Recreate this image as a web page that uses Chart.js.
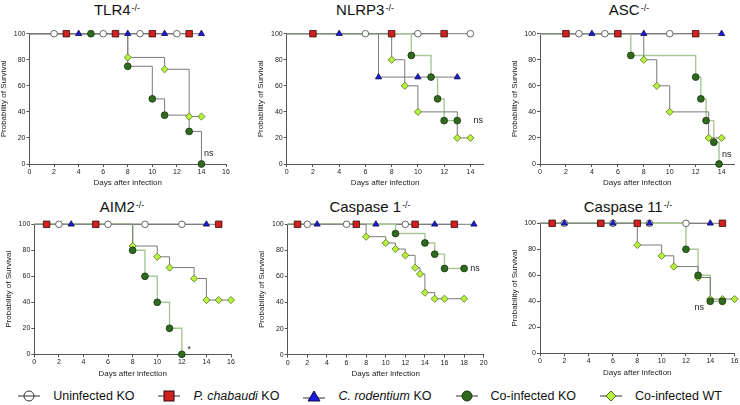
<!DOCTYPE html>
<html>
<head>
<meta charset="utf-8">
<script src="https://cdn.jsdelivr.net/npm/chart.js@4.4.0/dist/chart.umd.min.js"></script>
<style>
  html, body { margin: 0; padding: 0; background: #fff; }
  #wrap { position: relative; width: 740px; height: 405px; overflow: hidden; font-family: "Liberation Sans", Arial, sans-serif; color: #111; }
  #wrap canvas { position: absolute; }
  .title { position: absolute; transform: translateX(-50%); font-size: 15px; line-height: 15px; white-space: nowrap; }
  .title .sup { font-size: 9px; position: relative; top: -4px; margin-left: 1px; }
  #legend { position: absolute; left: 0; top: 389px; width: 740px; height: 14px; display: flex; justify-content: center; align-items: center; gap: 24px; font-size: 12.5px; line-height: 14px; }
  #legend .item { display: flex; align-items: center; white-space: nowrap; }
  #legend svg { margin-right: 13px; }
</style>
</head>
<body>
<div id="wrap">
  <div class="title" style="left:117px;top:2px">TLR4<span class="sup">-/-</span></div>
  <div class="title" style="left:365px;top:2px">NLRP3<span class="sup">-/-</span></div>
  <div class="title" style="left:629px;top:2px">ASC<span class="sup">-/-</span></div>
  <div class="title" style="left:122px;top:199px">AIM2<span class="sup">-/-</span></div>
  <div class="title" style="left:370px;top:199px">Caspase 1<span class="sup">-/-</span></div>
  <div class="title" style="left:628px;top:199px">Caspase 11<span class="sup">-/-</span></div>

  <div id="legend">
    <div class="item">
      <svg width="22" height="12"><line x1="0" y1="6" x2="22" y2="6" stroke="#333" stroke-width="1"/><circle cx="11" cy="6" r="5" fill="none" stroke="#333" stroke-width="1"/></svg>
      <span>Uninfected KO</span>
    </div>
    <div class="item">
      <svg width="22" height="12"><line x1="0" y1="6" x2="22" y2="6" stroke="#333" stroke-width="1"/><rect x="6" y="1" width="10" height="10" fill="#d0201f" stroke="#2a0808" stroke-width="1"/></svg>
      <span><i>P. chabaudi</i> KO</span>
    </div>
    <div class="item">
      <svg width="22" height="12"><line x1="0" y1="8" x2="22" y2="8" stroke="#333" stroke-width="1"/><polygon points="11,1 17,11 5,11" fill="#1a1ae0" stroke="#101040" stroke-width="1"/></svg>
      <span><i>C. rodentium</i> KO</span>
    </div>
    <div class="item">
      <svg width="22" height="12"><line x1="0" y1="6" x2="22" y2="6" stroke="#333" stroke-width="1"/><circle cx="11" cy="6" r="5" fill="#2f6a1f" stroke="#18350e" stroke-width="1"/></svg>
      <span>Co-infected KO</span>
    </div>
    <div class="item">
      <svg width="22" height="12"><line x1="0" y1="6" x2="22" y2="6" stroke="#333" stroke-width="1"/><polygon points="11,1 16,6 11,11 6,6" fill="#b8f040" stroke="#4c6a1c" stroke-width="1"/></svg>
      <span>Co-infected WT</span>
    </div>
  </div>
</div>

<script>
// axis ticks
const survivalTicks = [0, 20, 40, 60, 80, 100];
const dayTicks14 = [0, 2, 4, 6, 8, 10, 12, 14];
const dayTicks16 = [0, 2, 4, 6, 8, 10, 12, 14, 16];
const dayTicks20 = [0, 2, 4, 6, 8, 10, 12, 14, 16, 18, 20];

// [day, % survival]
// TLR4-/-
const tlr4Uninfected = [[0, 100], [2, 100], [6, 100], [9, 100], [12, 100]];
const tlr4Chabaudi = [[0, 100], [3, 100], [7, 100], [10, 100], [13, 100]];
const tlr4Rodentium = [[0, 100], [4, 100], [8, 100], [11, 100], [14, 100]];
const tlr4CoKO = [[0, 100], [5, 100], [8, 75], [10, 50], [11, 37.5], [13, 25], [14, 0]];
const tlr4CoWT = [[0, 100], [8, 81.8], [11, 72.7], [13, 36.4], [14, 36.4]];

// NLRP3-/-
const nlrp3Uninfected = [[0, 100], [6, 100], [10, 100], [14, 100]];
const nlrp3Chabaudi = [[0, 100], [2, 100], [8, 100], [12, 100]];
const nlrp3Rodentium = [[0, 100], [4, 100], [7, 66.7], [10, 66.7], [13, 66.7]];
const nlrp3CoKO = [[0, 100], [9.5, 83.3], [11, 66.7], [11.5, 50], [12, 33.3], [13, 33.3]];
const nlrp3CoWT = [[0, 100], [8, 80], [9, 60], [10, 40], [13, 20], [14, 20]];

// ASC-/-
const ascUninfected = [[0, 100], [3, 100], [5, 100], [10, 100]];
const ascChabaudi = [[0, 100], [2, 100], [6, 100], [12, 100]];
const ascRodentium = [[0, 100], [4, 100], [8, 100], [14, 100]];
const ascCoKO = [[0, 100], [7, 83.3], [12, 66.7], [12.4, 50], [12.8, 33.3], [13.4, 16.7], [13.8, 0]];
const ascCoWT = [[0, 100], [8, 80], [9, 60], [10, 40], [13, 20], [14, 20]];

// AIM2-/-
const aim2Uninfected = [[0, 100], [2, 100], [6, 100], [9, 100], [12, 100]];
const aim2Chabaudi = [[0, 100], [1, 100], [5, 100], [15, 100]];
const aim2Rodentium = [[0, 100], [3, 100], [14, 100]];
const aim2CoKO = [[0, 100], [8, 80], [9, 60], [10, 40], [11, 20], [12, 0]];
const aim2CoWT = [[0, 100], [8, 83.3], [10, 75], [11, 66.7], [13, 58.3], [14, 41.7], [15, 41.7], [16, 41.7]];

// Caspase 1-/-
const casp1Uninfected = [[0, 100], [2, 100], [6, 100], [12, 100]];
const casp1Chabaudi = [[0, 100], [1, 100], [7, 100], [13, 100], [17, 100]];
const casp1Rodentium = [[0, 100], [3, 100], [9, 100], [15, 100], [19, 100]];
const casp1CoKO = [[0, 100], [11, 92.9], [14, 85.7], [15, 77.1], [16, 66.1], [18, 66.1]];
const casp1CoWT = [[0, 100], [8, 90.5], [10, 85.7], [11, 81], [12, 76.2], [13, 66.7], [13.5, 61.9], [14, 47.6], [15, 42.9], [16, 42.9], [18, 42.9]];

// Caspase 11-/-
const casp11Uninfected = [[0, 100], [2, 100], [6, 100], [9, 100], [12, 100]];
const casp11Chabaudi = [[0, 100], [1, 100], [5, 100], [8, 100], [15, 100]];
const casp11Rodentium = [[0, 100], [2, 100], [6, 100], [9, 100], [14, 100]];
const casp11CoKO = [[0, 100], [12, 80], [13, 60], [14, 40], [15, 40]];
const casp11CoWT = [[0, 100], [8, 83.3], [10, 75], [11, 66.7], [13, 58.3], [14, 41.7], [15, 41.7], [16, 41.7]];

// significance marks: text, day, % survival
const noteText = ["ns", "ns", "ns", "*", "ns", "ns"];
const noteDay = [14.6, 14.6, 14.4, 12.6, 19.1, 13.1];
const notePct = [8, 33, 7, 4, 66, 35];

Chart.defaults.font.family = '"Liberation Sans", Arial, sans-serif';

const GREY = "#7a7a7a";
const GREEN_LINE = "#a6c996";
const AXIS = "#555";
const Y_W = 30.5;
const X_H = 24;

// uninfected, chabaudi, rodentium, co-KO, co-WT
const seriesStyle = [
  { shape: "circle", r: 3.3, fill: "#ffffff", stroke: "#444", pointOrder: 2, lineOrder: 12 },
  { shape: "rect", r: 4.6, fill: "#d0201f", stroke: "#3a0a0a", pointOrder: 1, lineOrder: 13 },
  { shape: "triangle", r: 3.6, fill: "#1a1ae0", stroke: "#10104a", pointOrder: 0, lineOrder: 14 },
  { shape: "circle", r: 3.4, fill: "#2f6a1f", stroke: "#18350e", pointOrder: 3, lineOrder: 11 },
  { shape: "rectRot", r: 3.6, fill: "#b8f040", stroke: "#55751f", pointOrder: 4, lineOrder: 10 },
];

const panels = [
  { box: [0, 0, 245, 195], plot: [29.5, 226, 33.7, 164], xMax: 16, xTicks: dayTicks16, koLine: GREY,
    series: [tlr4Uninfected, tlr4Chabaudi, tlr4Rodentium, tlr4CoKO, tlr4CoWT] },
  { box: [245, 0, 245, 195], plot: [286.7, 483.5, 33.7, 164], xMax: 15, xTicks: dayTicks14, koLine: GREEN_LINE,
    series: [nlrp3Uninfected, nlrp3Chabaudi, nlrp3Rodentium, nlrp3CoKO, nlrp3CoWT] },
  { box: [490, 0, 250, 195], plot: [540, 736.4, 33.7, 164], xMax: 15, xTicks: dayTicks14, koLine: GREEN_LINE,
    series: [ascUninfected, ascChabaudi, ascRodentium, ascCoKO, ascCoWT] },
  { box: [0, 195, 245, 185], plot: [34.3, 231, 224.3, 354.3], xMax: 16, xTicks: dayTicks16, koLine: GREEN_LINE,
    series: [aim2Uninfected, aim2Chabaudi, aim2Rodentium, aim2CoKO, aim2CoWT] },
  { box: [245, 195, 245, 185], plot: [287.7, 483.7, 224.3, 354.7], xMax: 20, xTicks: dayTicks20, koLine: GREEN_LINE,
    series: [casp1Uninfected, casp1Chabaudi, casp1Rodentium, casp1CoKO, casp1CoWT] },
  { box: [490, 195, 250, 185], plot: [540, 736.3, 223.3, 353.3], xMax: 16, xTicks: dayTicks16, koLine: GREEN_LINE,
    series: [casp11Uninfected, casp11Chabaudi, casp11Rodentium, casp11CoKO, casp11CoWT] },
];

// draws the "ns" / "*" next to the curves
const notesPlugin = {
  id: "notes",
  afterDatasetsDraw(chart, args, opts) {
    const { ctx, scales } = chart;
    ctx.save();
    ctx.font = '9px "Liberation Sans", Arial, sans-serif';
    ctx.fillStyle = "#222";
    ctx.textAlign = "center";
    ctx.textBaseline = "middle";
    ctx.fillText(opts.text, scales.x.getPixelForValue(opts.day), scales.y.getPixelForValue(opts.pct));
    ctx.restore();
  },
};

const wrap = document.getElementById("wrap");

panels.forEach((p, idx) => {
  const [cx, cy, cw, ch] = p.box;
  const [l, r, t, b] = p.plot;
  const canvas = document.createElement("canvas");
  canvas.width = cw;
  canvas.height = ch;
  canvas.style.left = cx + "px";
  canvas.style.top = cy + "px";
  wrap.appendChild(canvas);

  const datasets = [];
  p.series.forEach((rows, i) => {
    const s = seriesStyle[i];
    const pts = rows.map((d) => ({ x: d[0], y: d[1] }));
    let lineColor = GREY;
    if (i === 3) lineColor = p.koLine;
    // step line (Kaplan-Meier)
    datasets.push({
      data: pts,
      stepped: "before",
      borderColor: lineColor,
      borderWidth: i === 3 && p.koLine !== GREY ? 1.4 : 1,
      pointRadius: 0,
      fill: false,
      order: s.lineOrder,
      clip: false,
    });
    // symbols
    datasets.push({
      data: pts,
      showLine: false,
      pointStyle: s.shape,
      pointRadius: pts.map((q) => (q.x === 0 ? 0 : s.r)),
      pointBackgroundColor: s.fill,
      pointBorderColor: s.stroke,
      pointBorderWidth: 0.8,
      order: s.pointOrder,
      clip: false,
    });
  });

  new Chart(canvas, {
    type: "line",
    data: { datasets },
    options: {
      responsive: false,
      animation: false,
      devicePixelRatio: 1,
      events: [],
      layout: {
        padding: { left: l - cx - Y_W, right: cx + cw - r, top: t - cy, bottom: cy + ch - b - X_H },
      },
      plugins: {
        legend: { display: false },
        tooltip: { enabled: false },
        notes: { text: noteText[idx], day: noteDay[idx], pct: notePct[idx] },
      },
      scales: {
        x: {
          type: "linear",
          min: 0,
          max: p.xMax,
          afterBuildTicks: (s) => { s.ticks = p.xTicks.map((v) => ({ value: v })); },
          afterFit: (s) => { s.height = X_H; s.paddingLeft = 0; s.paddingRight = 0; },
          grid: { drawOnChartArea: false, drawTicks: true, tickLength: 3, color: AXIS, lineWidth: 1 },
          border: { color: AXIS, width: 1 },
          ticks: { font: { size: 7 }, color: "#222", padding: 1, maxRotation: 0 },
          title: { display: true, text: "Days after infection", font: { size: 8 }, color: "#222", padding: { top: 0, bottom: 0 } },
        },
        y: {
          min: 0,
          max: 100,
          afterBuildTicks: (s) => { s.ticks = survivalTicks.map((v) => ({ value: v })); },
          afterFit: (s) => { s.width = Y_W; s.paddingTop = 0; s.paddingBottom = 0; },
          grid: { drawOnChartArea: false, drawTicks: true, tickLength: 3, color: AXIS, lineWidth: 1 },
          border: { color: AXIS, width: 1 },
          ticks: { font: { size: 7 }, color: "#222", padding: 1 },
          title: { display: true, text: "Probability of Survival", font: { size: 8 }, color: "#222", padding: { top: 0, bottom: 0 } },
        },
      },
    },
    plugins: [notesPlugin],
  });
});
</script>
</body>
</html>
